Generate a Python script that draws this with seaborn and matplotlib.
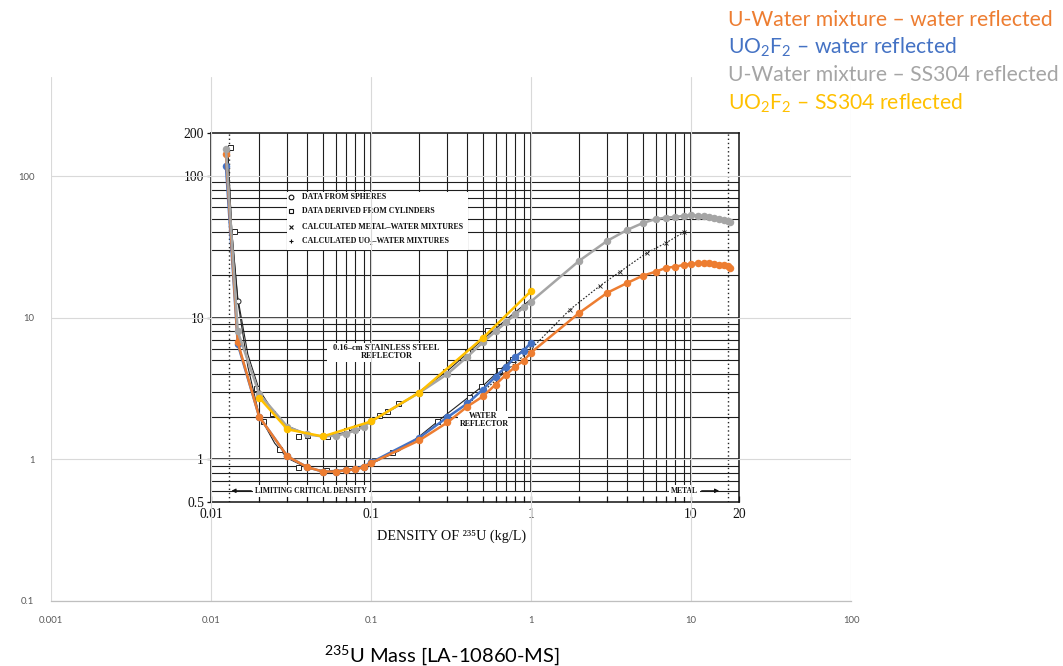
import numpy as np
import matplotlib
matplotlib.use("Agg")
import matplotlib.pyplot as plt
import seaborn as sns
from matplotlib.patches import Rectangle
from matplotlib.ticker import NullLocator

# ---------------- data ----------------
orange_x = [0.0124, 0.0147, 0.02, 0.03, 0.04, 0.05, 0.06, 0.07, 0.08, 0.09, 0.1, 0.2, 0.3,
            0.4, 0.5, 0.6, 0.7, 0.8, 0.9, 1.0, 2, 3, 4, 5, 6, 7, 8, 9, 10, 11, 12, 13,
            14, 15, 16, 17, 17.5]
orange_y = [143, 6.7, 2.0, 1.05, 0.88, 0.82, 0.82, 0.835, 0.85, 0.88, 0.94, 1.36, 1.82,
            2.36, 2.78, 3.37, 3.97, 4.52, 4.98, 5.67, 10.8, 15.0, 17.6, 19.8, 21.1, 22.5,
            22.9, 23.6, 24.0, 24.2, 24.3, 24.2, 24.0, 23.7, 23.4, 23.0, 22.6]

blue_x = [0.0124, 0.0147, 0.02, 0.03, 0.04, 0.05, 0.06, 0.07, 0.08, 0.09, 0.1, 0.2, 0.3,
          0.4, 0.5, 0.6, 0.7, 0.8, 0.9, 1.0]
blue_y = [117, 6.5, 2.0, 1.05, 0.88, 0.82, 0.82, 0.84, 0.86, 0.89, 0.95, 1.42, 1.98,
          2.48, 3.11, 3.84, 4.52, 5.3, 5.85, 6.67]

grey_x = [0.0124, 0.0147, 0.02, 0.03, 0.04, 0.05, 0.06, 0.07, 0.08, 0.09, 0.1, 0.2, 0.3,
          0.4, 0.5, 0.6, 0.7, 0.8, 0.9, 1.0, 2, 3, 4, 5, 6, 7, 8, 9, 10, 11, 12, 13,
          14, 15, 16, 17, 17.5]
grey_y = [155, 8.0, 2.9, 1.7, 1.5, 1.45, 1.47, 1.52, 1.6, 1.7, 1.85, 2.95, 4.0,
          5.3, 6.7, 8.0, 9.3, 10.6, 11.8, 13.0, 25.2, 34.9, 41.7, 46.6, 49.6, 50.9,
          51.5, 52.3, 53.0, 52.5, 52.0, 51.2, 50.3, 49.5, 48.8, 48.0, 47.5]

yellow_x = [0.02, 0.03, 0.05, 0.1, 0.2, 0.5, 1.0]
yellow_y = [2.73, 1.63, 1.45, 1.85, 2.96, 7.2, 15.4]

# scanned reference figure (black curves and symbols)
scan_x = [0.0127, 0.0135, 0.0147, 0.017, 0.02, 0.025, 0.03, 0.04, 0.05, 0.07, 0.1,
          0.15, 0.2, 0.3, 0.5, 0.7, 1.0]
scan_water_y = [160, 40, 13.2, 4.5, 2.05, 1.3, 1.02, 0.87, 0.83, 0.84, 0.93,
                1.15, 1.45, 2.1, 3.3, 4.7, 6.6]
scan_steel_y = [160, 40, 13.8, 5.5, 3.1, 2.1, 1.72, 1.5, 1.45, 1.55, 1.85,
                2.4, 3.0, 4.2, 7.0, 9.7, 13.5]
sq_water_x = [0.0132, 0.0139, 0.021, 0.0266, 0.035, 0.052, 0.135, 0.26, 0.41, 0.49, 0.63, 0.76]
sq_water_y = [160, 41, 1.85, 1.19, 0.89, 0.84, 1.12, 1.85, 2.75, 3.3, 4.3, 5.1]
sq_steel_x = [0.019, 0.024, 0.035, 0.04, 0.053, 0.07, 0.081, 0.113, 0.125, 0.147, 0.29, 0.4, 0.53]
sq_steel_y = [3.17, 2.14, 1.45, 1.48, 1.45, 1.6, 1.68, 2.04, 2.18, 2.5, 4.17, 5.76, 8.2]
circ_x = [0.0147]
circ_y = [13.2]
calc_x = [0.5, 0.7, 1.0, 1.75, 2.7, 3.6, 5.3, 7.0, 9.1]
calc_y = [3.0, 4.2, 6.0, 11.4, 16.8, 21.1, 28.7, 33.8, 40.4]
limit_density = 0.0129
metal_density = 17.0

outer_xticks = [0.001, 0.01, 0.1, 1, 10, 100]
outer_xlabels = ["0.001", "0.01", "0.1", "1", "10", "100"]
outer_yticks = [0.1, 1, 10, 100]
outer_ylabels = ["0.1", "1", "10", "100"]
scan_xticks = [0.01, 0.1, 1, 10, 20]
scan_xlabels = ["0.01", "0.1", "1", "10", "20"]
scan_yticks = [0.5, 1, 10, 100, 200]
scan_ylabels = ["0.5", "1", "10", "100", "200"]

legend_labels = ["U-Water mixture \u2013 water reflected",
                 "UO$_2$F$_2$ \u2013 water reflected",
                 "U-Water mixture \u2013 SS304 reflected",
                 "UO$_2$F$_2$ \u2013 SS304 reflected"]
C_OR, C_BL, C_GR, C_YE = "#ED7D31", "#4472C4", "#A5A5A5", "#FFC000"
legend_colors = [C_OR, C_BL, C_GR, C_YE]

# ---------------- style ----------------
sns.set_theme(style="white")
plt.rcParams["font.family"] = ["Lato", "DejaVu Sans"]
plt.rcParams["mathtext.fontset"] = "custom"
plt.rcParams["mathtext.rm"] = "Lato"
plt.rcParams["mathtext.it"] = "Lato:italic"
plt.rcParams["mathtext.bf"] = "Lato:bold"
SERIF = ["Liberation Serif", "DejaVu Serif"]

W, H = 1063, 666
fig = plt.figure(figsize=(W / 100, H / 100), dpi=100, facecolor="white")
L, B, R, T = 51 / W, 1 - 601 / H, 851 / W, 1 - 77 / H
XMIN, XMAX, YMIN, YMAX = 1e-3, 100.0, 0.1, 500.0


def fx(v):
    return L + (R - L) * (np.log10(v) - np.log10(XMIN)) / (np.log10(XMAX) - np.log10(XMIN))


def fy(v):
    return B + (T - B) * (np.log10(v) - np.log10(YMIN)) / (np.log10(YMAX) - np.log10(YMIN))


# ---------------- scanned figure (background) ----------------
sx0, sx1 = fx(0.01), fx(20)
axs = fig.add_axes([sx0, fy(0.5), sx1 - sx0, fy(200) - fy(0.5)], zorder=0)
axs.set_xscale("log")
axs.set_yscale("log")
axs.set_xlim(0.01, 20)
axs.set_ylim(0.5, 200)
axs.set_facecolor("white")

gx = [m * 10.0 ** e for e in (-2, -1, 0, 1) for m in range(1, 10)]
gx = [v for v in gx if 0.01 < v < 20]
gy = [m * 10.0 ** e for e in (-1, 0, 1) for m in range(1, 10)]
gy = [v for v in gy if 0.6 - 1e-9 <= v <= 100 + 1e-9]
for v in gx:
    heavy = abs(np.log10(v) - round(np.log10(v))) < 1e-6
    axs.vlines(v, 0.6, 200, color="#1e1e1e", lw=1.2 if heavy else 0.8, zorder=1)
for v in gy:
    heavy = abs(np.log10(v) - round(np.log10(v))) < 1e-6
    axs.hlines(v, 0.01, 20, color="#1e1e1e", lw=1.2 if heavy else 0.8, zorder=1)

axs.vlines([limit_density, metal_density], 0.5, 200, color="#222222", lw=1.0,
           linestyles=(0, (1, 2)), zorder=2)

for sp in axs.spines.values():
    sp.set_color("#111111")
    sp.set_linewidth(1.1)
axs.set_xticks(scan_xticks, scan_xlabels)
axs.set_xticks([v for v in gx if v not in scan_xticks], minor=True)
axs.set_yticks(scan_yticks, scan_ylabels)
axs.yaxis.set_minor_locator(NullLocator())
axs.tick_params(axis="x", which="both", direction="in", length=4, width=0.9,
                color="#111111", bottom=True, top=False, pad=4)
axs.tick_params(axis="y", which="both", direction="out", length=3, width=0.9,
                color="#111111", left=True, right=False, pad=2)
for lab in axs.get_xticklabels() + axs.get_yticklabels():
    lab.set_family(SERIF)
    lab.set_fontsize(9.8)
    lab.set_color("#111111")
# scan x-axis title (placed where it sits in the scan)
fig.text(452 / W, 1 - 536 / H, "DENSITY OF \u00b2\u00b3\u2075U (kg/L)", family=SERIF,
         fontsize=10.2, color="#111111", ha="center", va="center", zorder=0)

# white label boxes of the scan
axs.add_patch(Rectangle((0.0299, 30.1), 0.404 - 0.0299, 77 - 30.1, facecolor="white",
                        edgecolor="none", zorder=3))
axs.add_patch(Rectangle((0.053, 4.83), 0.30 - 0.053, 6.67 - 4.83, facecolor="white",
                        edgecolor="none", zorder=3))
axs.add_patch(Rectangle((0.35, 1.63), 0.72 - 0.35, 2.18 - 1.63, facecolor="white",
                        edgecolor="none", zorder=3))

# scan legend
leg_rows_y = [70.6, 56.3, 44.0, 34.5]
leg_texts = ["DATA FROM SPHERES", "DATA DERIVED FROM CYLINDERS",
             "CALCULATED METAL\u2013WATER MIXTURES", "CALCULATED UO\u2082\u2013WATER MIXTURES"]
leg_marks = ["o", "s", "x", "+"]
for yy, tt, mk in zip(leg_rows_y, leg_texts, leg_marks):
    axs.plot([0.0316], [yy], marker=mk, ms=3.4, mfc="white", mec="#111111", mew=0.8,
             ls="none", zorder=4)
    axs.text(0.037, yy, tt, family=SERIF, fontsize=5.7, weight="bold", color="#111111",
             va="center", ha="left", zorder=4)

axs.text(0.125, 6.07, "0.16\u2013cm STAINLESS STEEL", family=SERIF, fontsize=6.0,
         weight="bold", color="#111111", ha="center", va="center", zorder=4)
axs.text(0.125, 5.33, "REFLECTOR", family=SERIF, fontsize=6.0, weight="bold",
         color="#111111", ha="center", va="center", zorder=4)
axs.text(0.5, 2.01, "WATER", family=SERIF, fontsize=5.8, weight="bold",
         color="#111111", ha="center", va="center", zorder=4)
axs.text(0.51, 1.77, "REFLECTOR", family=SERIF, fontsize=5.8, weight="bold",
         color="#111111", ha="center", va="center", zorder=4)

axs.text(0.042, 0.6, "LIMITING CRITICAL DENSITY", family=SERIF, fontsize=5.5,
         weight="bold", color="#111111", ha="center", va="center", zorder=4,
         bbox=dict(facecolor="white", edgecolor="none", pad=1.5))
axs.annotate("", xy=(limit_density, 0.6), xytext=(0.0186, 0.6),
             arrowprops=dict(arrowstyle="-|>", color="#111111", lw=0.8,
                             mutation_scale=6), zorder=4)
axs.text(9.06, 0.6, "METAL", family=SERIF, fontsize=5.5, weight="bold",
         color="#111111", ha="center", va="center", zorder=4,
         bbox=dict(facecolor="white", edgecolor="none", pad=1.5))
axs.annotate("", xy=(15.6, 0.6), xytext=(11.2, 0.6),
             arrowprops=dict(arrowstyle="-|>", color="#111111", lw=0.8,
                             mutation_scale=6), zorder=4)

# scanned curves
axs.plot(scan_x, scan_water_y, color="#222222", lw=0.8, zorder=5)
axs.plot(scan_x, scan_steel_y, color="#222222", lw=0.8, zorder=5)
axs.plot(calc_x, calc_y, color="#222222", lw=0.8, ls=(0, (1.5, 1.5)), marker="x",
         ms=2.5, mew=0.6, zorder=5)
axs.plot(sq_water_x, sq_water_y, ls="none", marker="s", ms=3.6, mfc="white",
         mec="#222222", mew=0.7, zorder=5)
axs.plot(sq_steel_x, sq_steel_y, ls="none", marker="s", ms=3.6, mfc="white",
         mec="#222222", mew=0.7, zorder=5)
axs.plot(circ_x, circ_y, ls="none", marker="o", ms=3.6, mfc="white",
         mec="#222222", mew=0.7, zorder=5)

# ---------------- main (Excel) chart on top ----------------
ax = fig.add_axes([L, B, R - L, T - B], zorder=1)
ax.patch.set_alpha(0)
ax.set_xscale("log")
ax.set_yscale("log")

series = [(blue_x, blue_y, C_BL, 3), (orange_x, orange_y, C_OR, 4),
          (grey_x, grey_y, C_GR, 5), (yellow_x, yellow_y, C_YE, 6)]
for xs, ys, col, zo in series:
    sns.lineplot(x=xs, y=ys, ax=ax, color=col, marker="o", markersize=5.4,
                 markeredgewidth=0, linewidth=1.8, sort=False, estimator=None, zorder=zo)

ax.set_xlim(XMIN, XMAX)
ax.set_ylim(YMIN, YMAX)
ax.set_xlabel("")
ax.set_ylabel("")
ax.set_xticks(outer_xticks, outer_xlabels)
ax.set_yticks(outer_yticks, outer_ylabels)
ax.xaxis.set_minor_locator(NullLocator())
ax.yaxis.set_minor_locator(NullLocator())
ax.grid(True, which="major", color="#D9D9D9", lw=0.8)
ax.set_axisbelow(True)
for side in ["left", "top", "right"]:
    ax.spines[side].set_visible(False)
ax.spines["bottom"].set_color("#BFBFBF")
ax.spines["bottom"].set_linewidth(0.9)
ax.tick_params(axis="both", length=0, labelsize=6.8, labelcolor="#595959")
ax.tick_params(axis="x", pad=11)
ax.tick_params(axis="y", pad=12)

# legend as coloured text
for i, (lab, col) in enumerate(zip(legend_labels, legend_colors)):
    fig.text(728 / W, 1 - (20 + 27.7 * i) / H, lab, color=col, fontsize=15.2,
             ha="left", va="center")

fig.text(442 / W, 1 - 655 / H, "$^{235}$U Mass [LA-10860-MS]", ha="center",
         va="center", fontsize=14.5, color="black")

fig.savefig("out.png", dpi=100, facecolor="white")
